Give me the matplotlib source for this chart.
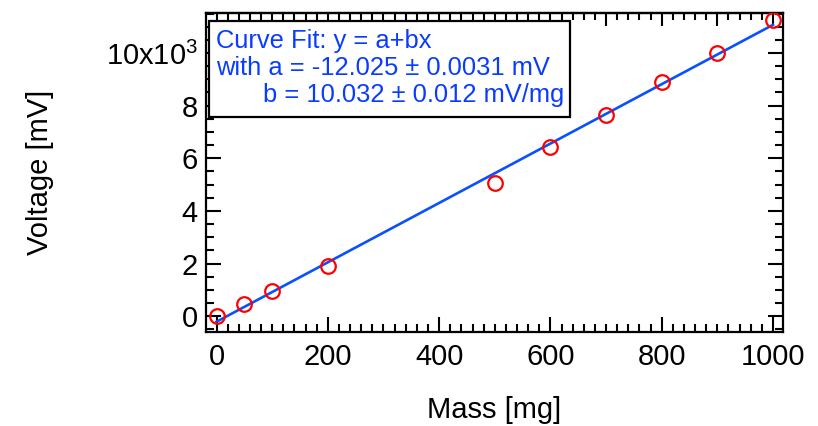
import numpy as np
import matplotlib
matplotlib.use("Agg")
import matplotlib.pyplot as plt
from matplotlib.ticker import MultipleLocator, FuncFormatter
from matplotlib.patches import Rectangle

plt.rcParams['font.family'] = ['Liberation Sans', 'DejaVu Sans']
plt.rcParams['mathtext.fontset'] = 'custom'
plt.rcParams['mathtext.rm'] = 'Liberation Sans'

# Calibration measurements
mass_mg = [0, 50, 100, 200, 500, 600, 700, 800, 900, 1000]
voltage_mv = [0, 460, 960, 1900, 5070, 6420, 7640, 8900, 10000, 11270]

fit_lines = [
    "Curve Fit: y = a+bx",
    "with a = -12.025 \u00b1 0.0031 mV",
    "b = 10.032 \u00b1 0.012 mV/mg",
]

W, H = 818, 426
fig = plt.figure(figsize=(W / 100, H / 100), dpi=100)
ax = fig.add_axes([206 / W, 1 - 332 / H, (783 - 206) / W, (332 - 13) / H])

# Least-squares straight line through the measurements
slope, intercept = np.polyfit(mass_mg, voltage_mv, 1)
xs = np.array([mass_mg[0], mass_mg[-1]])
ax.plot(xs, intercept + slope * xs, color='#0a50ff', lw=1.9, zorder=2)
ax.plot(mass_mg, voltage_mv, linestyle='none', marker='o', ms=10.5,
        mfc='none', mec='#ff0000', mew=1.6, zorder=3)

ax.set_xlim(-19, 1018)
ax.set_ylim(-600, 11520)

for s in ax.spines.values():
    s.set_linewidth(1.6)

ax.xaxis.set_major_locator(MultipleLocator(200))
ax.xaxis.set_minor_locator(MultipleLocator(20))
ax.yaxis.set_major_locator(MultipleLocator(2000))
ax.yaxis.set_minor_locator(MultipleLocator(500))


def ylab(v, pos):
    k = int(round(v / 1000))
    if k == 10:
        return r'10x10$^{\mathregular{3}}$'
    return str(k)


ax.yaxis.set_major_formatter(FuncFormatter(ylab))
ax.tick_params(axis='both', which='major', direction='in', length=11,
               width=1.5, labelsize=21, pad=6)
ax.tick_params(axis='x', which='major', pad=8)
ax.tick_params(axis='both', which='minor', direction='in', length=6,
               width=1.5)
ax.tick_params(axis='x', which='both', top=False)
ax.tick_params(axis='y', which='both', right=True)

# Top axis: unlabelled ticks every 100 with minors every 20
top = ax.secondary_xaxis('top')
top.xaxis.set_major_locator(MultipleLocator(100))
top.xaxis.set_minor_locator(MultipleLocator(20))
top.tick_params(which='major', direction='in', length=9, width=1.5,
                labeltop=False)
top.tick_params(which='minor', direction='in', length=5, width=1.5)
top.spines['top'].set_linewidth(1.6)

ax.set_xlabel('Mass [mg]', fontsize=21, labelpad=18)
ax.set_ylabel('Voltage [mV]', fontsize=21, labelpad=37)

# Fit result box
box = Rectangle((209 / W, 1 - 117 / H), (570 - 209) / W, (117 - 21) / H,
                transform=fig.transFigure, facecolor='white',
                edgecolor='black', lw=1.6, zorder=10)
fig.add_artist(box)
txt_color = '#0a3cff'
fs = 18.35
fig.text(216 / W, 1 - 48 / H, fit_lines[0], fontsize=fs, color=txt_color,
         va='baseline', ha='left', zorder=11)
fig.text(216 / W, 1 - 75 / H, fit_lines[1], fontsize=fs, color=txt_color,
         va='baseline', ha='left', zorder=11)
fig.text(263 / W, 1 - 102 / H, fit_lines[2], fontsize=fs, color=txt_color,
         va='baseline', ha='left', zorder=11)

fig.savefig('out.png', dpi=100)
